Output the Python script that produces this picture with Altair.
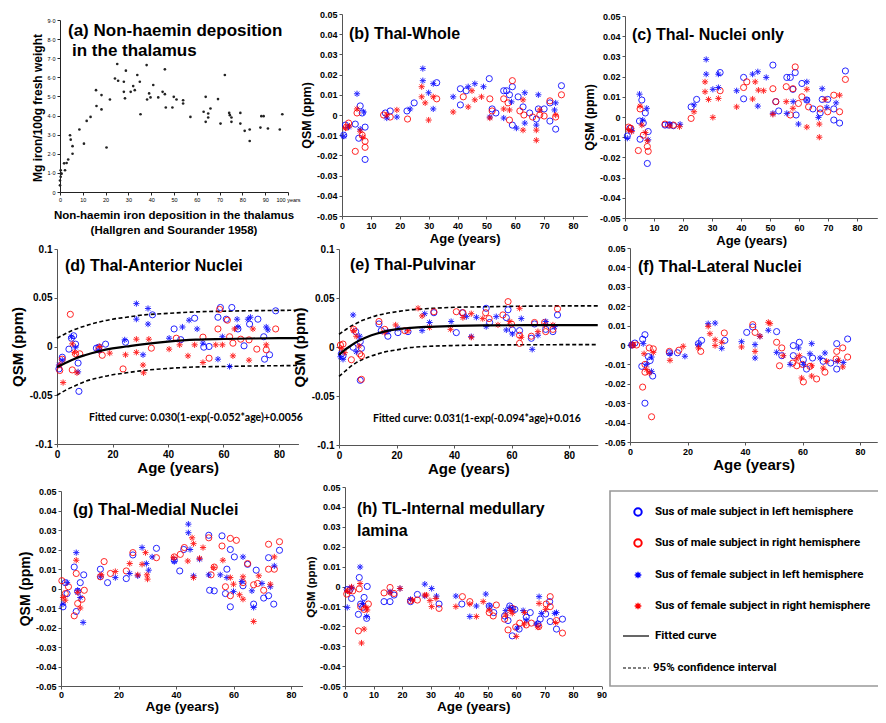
import altair as alt
import pandas as pd

# ---------------- data ----------------
# (a) iron content (mg / 100 g fresh weight, in units of the 0-9 axis) vs age
A_PTS = [(0,0.35),(0,0.6),(0.3,0.8),(0.4,0.96),(0.3,1.14),(0.7,0.96),(1.8,1.5),(2.2,1.14),(2.9,1.52),(3.6,1.7),
         (4.4,2.97),(4.7,2.74),(5.5,2.4),(5.5,2.0),(8.5,3.27),(10.5,2.53),(11.7,3.72),(13.4,3.93),(15.8,5.33),(16,4.5),
         (18.2,5.07),(18.2,4.32),(20.4,2.33),(21.9,4.84),(24.1,5.94),(25.1,6.7),(25.5,5.82),(28,5.77),(28,5.24),(28.5,4.9),
         (28.9,6.35),(31,5.24),(32.1,5.54),(32.8,5.33),(33.9,6.12),(35,5.77),(35.3,4.07),(38,6.64),(38.2,4.84),(39.1,5.16),
         (39.7,4.95),(40.9,5.6),(43.1,4.95),(45,5.24),(46,5.12),(46,6.42),(46.4,4.42),(49.3,4.42),(49.9,4.98),(51.1,4.84),
         (54,4.8),(54,4.63),(57.2,3.93),(63,4.2),(63.9,4.98),(63.9,3.67),(65,4.11),(65,3.9),(66,4.37),(69.3,4.86),
         (70.4,3.58),(72.3,6.12),(74.2,4.14),(74.5,4.02),(75.2,3.9),(75.2,3.67),(79.1,4.14),(79.1,3.58),(81,3.2),(83.2,3.27),
         (83.2,2.67),(87.9,3.37),(88.3,3.97),(89.3,3.97),(91.2,3.32),(96.4,3.27),(97.5,4.07)]

# series: ML = male left (blue o), MR = male right (red o), FL = female left (blue *), FR = female right (red *)
B_ML = [(0.6,-0.010),(1.2,-0.005),(4.6,-0.0045),(5.8,-0.0115),(6.3,0.0045),(7,0.001),(8,-0.006),(8,-0.022),(15,0.001),(16.7,0.002),
        (22.5,0.002),(25,0.006),(32.8,0.016),(41,0.005),(41,0.013),(43,0.012),(51,0.018),(52,0.003),(53.3,0.001),(56,0.012),
        (57,0.012),(58,0.010),(59,0.014),(59,-0.005),(61,0.009),(62.7,0.004),(65,0.001),(67.3,-0.002),(68,0.003),(70,0.003),
        (72,0.006),(72,-0.003),(74,-0.007),(76,0.0145)]
B_MR = [(1.5,-0.006),(2.3,-0.004),(4.6,-0.018),(5.2,0.001),(7,-0.010),(8,-0.016),(8,-0.013),(14.4,0.0),(16.7,-0.001),(22.7,-0.002),
        (32.8,0.008),(42,0.009),(51.2,0.008),(52,0.002),(56,0.008),(57.5,0.006),(58,-0.0025),(59,0.017),(61.6,0.002),(63,0.0),
        (66,-0.001),(68.5,0.0),(70,-0.0005),(72,0.007),(74,-0.001),(76,0.010)]
B_FL = [(0.6,-0.0105),(2.3,-0.006),(5.2,0.0105),(6.3,-0.007),(7.5,0.0015),(15.5,-0.0015),(19,-0.001),(23.6,0.003),(28,0.023),(28,0.017),
        (30,0.011),(31.6,0.003),(31.6,0.0155),(38.5,0.009),(43.7,0.014),(46,0.0155),(49,0.014),(51.2,-0.001),(56,-0.0015),(58.7,0.0065),
        (60.4,-0.0065),(63.3,0.011),(63.3,-0.004),(68,0.010),(67.3,-0.005),(73.6,0.0025),(74,0.006)]
B_FR = [(1.2,-0.0065),(2.6,-0.0055),(5.2,0.003),(6.3,-0.008),(7.2,-0.011),(15.5,0.0),(19,0.0025),(27.6,0.014),(27.6,0.009),(28.8,0.006),
        (30,-0.0025),(31.6,0.009),(38.5,0.0015),(43.7,0.004),(45,0.012),(46,0.0075),(48.3,0.009),(51.2,-0.0015),(56,0.003),(58,0.0025),
        (62.7,0.0075),(62.7,-0.0075),(67.3,-0.0125),(67.3,-0.0075),(68.5,0.0025),(74,0.0)]

C_ML = [(0.8,-0.0094),(1.7,-0.0056),(5,-0.002),(5.2,-0.011),(5.8,0.0084),(6.3,-0.003),(7,0.002),(7.7,-0.023),(8,-0.0072),(13.8,-0.004),
        (15,-0.004),(16.7,-0.0043),(22.8,0.005),(24.7,0.0087),(32.8,0.022),(40.9,0.0196),(40.9,0.009),(51,0.0257),(52,0.0076),(53,0.003),
        (55.8,0.0196),(57,0.0196),(57.9,0.0137),(58.7,0.022),(59,0.001),(61,0.0166),(62.7,0.0084),(64.8,0.004),(67.3,0.002),(68,0.0087),
        (69.9,0.0087),(72,0.004),(72,-0.0015),(74,-0.003),(76,0.0228)]
C_MR = [(1.2,-0.005),(2,-0.0056),(4.6,-0.0166),(5.2,0.004),(6.3,-0.009),(7.7,-0.0146),(8,-0.017),(13.8,-0.0035),(16.7,-0.004),(22.8,-0.0007),
        (32.8,0.013),(40.9,0.0146),(42,0.0174),(51,0.014),(52,0.0076),(55.6,0.015),(57,0.001),(57.9,0.014),(58.7,0.0248),(59.8,0.0067),
        (61,0.010),(63.3,0.005),(67.3,0.004),(69.9,0.0026),(72,0.0108),(74,0.0026),(76,0.0186)]
C_FL = [(0.8,-0.0105),(2.3,-0.0067),(5,0.0113),(6.1,-0.0015),(7.5,0.0043),(8,-0.0113),(15.5,-0.0035),(19,-0.0036),(23.8,0.006),(28,0.0285),
        (28,0.0212),(30.3,0.0137),(32.2,0.0212),(32.2,0.0146),(38.5,0.013),(44,0.0212),(45.8,0.0224),(45.8,0.0054),(48.7,0.0196),(51,0.0018),
        (55.8,0.0018),(58,0.0076),(59.8,-0.0035),(62.7,0.0174),(62.7,0.0084),(66.7,-0.0002),(68,0.014),(69.6,0.0048),(72.8,0.007)]
C_FR = [(1.2,-0.0064),(2.3,-0.0072),(5.2,0.0054),(5.8,-0.004),(7,-0.0077),(7.7,-0.0117),(15.5,-0.0044),(18.8,-0.0048),(23.8,0.0026),(27.6,0.0174),
        (27.6,0.0125),(28.8,0.0087),(30.3,-0.0002),(32.2,0.0092),(38.5,0.005),(44,0.0089),(44.9,0.0174),(46,0.0133),(47.8,0.013),(51,0.0013),
        (55.6,0.0076),(57.9,0.0043),(62.7,0.0137),(62.7,-0.005),(67,-0.010),(67,-0.0035),(69,0.0087),(74,0.0108)]

D_ML = [(0.7,-0.023),(1.9,-0.011),(4.3,-0.0027),(5.2,0.0085),(6,0.011),(6.7,0.0024),(7.6,-0.017),(7.9,-0.046),(14.2,-0.0017),(15.1,-0.0007),
        (17.5,0.0024),(24.7,0.0044),(34.4,0.0325),(42.2,0.018),(44.6,0.007),(49.6,0.029),(52.9,-0.0007),(54.8,0.0),(58,0.030),(58.9,0.040),
        (61,0.028),(63,0.040),(65.2,0.018),(67.4,0.0007),(69.4,0.023),(72.4,0.028),(74.8,-0.013),(76.6,-0.0085),(78.8,0.0366),(74.5,0.010)]
D_MR = [(1,-0.0246),(1.9,-0.013),(4.8,0.033),(5.5,-0.024),(6.7,-0.0075),(8.2,-0.0075),(15.1,-0.0034),(16.3,-0.009),(23.8,-0.023),(34,-0.0017),
        (43,0.0085),(52.6,0.0096),(54.8,-0.012),(58,0.018),(58.6,0.038),(61.4,0.027),(62.2,0.010),(63.4,0.0034),(66.2,0.0075),(69.2,0.0068),
        (72,-0.0027),(75.4,-0.0034),(78.8,0.018)]
D_FL = [(0.7,-0.019),(1.9,-0.014),(5.2,0.010),(6.7,-0.0007),(7.6,-0.026),(15.1,-0.004),(24.4,0.0068),(28.6,0.044),(28.6,0.028),(31,-0.0085),
        (32.8,0.039),(32.8,0.023),(40.4,0.0085),(45.2,0.020),(47.6,0.027),(50.5,0.018),(52.6,0.0034),(58,-0.013),(59.6,0.010),(62.2,-0.0205),
        (64.9,0.028),(65.2,0.020),(68.8,0.028),(69.7,0.030),(75.4,0.020),(76,0.017)]
D_FR = [(1,-0.019),(2.2,-0.037),(5.5,0.0027),(6.3,-0.006),(7.2,-0.027),(15.4,0.0),(19,-0.0068),(24.7,-0.0085),(28.6,0.0075),(28.6,-0.006),
        (31,-0.019),(31.2,-0.027),(33.1,0.0075),(40.4,-0.0027),(44.2,0.0017),(47.2,-0.0096),(49.6,0.0017),(52.6,-0.0164),(57.2,0.0017),(59.6,0.0017),
        (63.4,-0.0096),(64,0.018),(69.2,-0.014),(70.6,0.018),(75.4,0.0017)]
D_CURVE_AGE = [0, 3, 6, 10, 15, 20, 25, 30, 40, 50, 60, 70, 80, 87]
D_FIT = [-0.021, -0.017, -0.013, -0.009, -0.005, -0.002, 0.0, 0.002, 0.005, 0.007, 0.0077, 0.0082, 0.0085, 0.0086]
D_UP = [0.0085, 0.013, 0.017, 0.021, 0.025, 0.028, 0.030, 0.032, 0.034, 0.0355, 0.0362, 0.0367, 0.037, 0.0372]
D_LO = [-0.050, -0.045, -0.041, -0.036, -0.032, -0.029, -0.027, -0.025, -0.0225, -0.021, -0.0205, -0.020, -0.0197, -0.0195]

E_ML = [(0.8,-0.007),(1.4,-0.009),(4.9,-0.0003),(5.8,0.0157),(7.4,0.0055),(7.8,-0.0013),(7.4,-0.034),(13.9,0.0235),(14.7,0.0167),(17,0.011),
        (20.5,0.0147),(24,0.0157),(33,0.035),(40.8,0.0147),(42.9,0.035),(51.2,0.0395),(52.4,0.025),(58.2,0.030),(58.8,0.038),(60.3,0.0174),
        (62.8,0.0167),(66.9,0.0089),(68,0.0235),(71.9,0.018),(74.4,0.0157),(76,0.0327)]
E_MR = [(0.5,0.002),(1.4,0.003),(4.3,-0.013),(5.1,0.018),(7.2,-0.007),(7.8,-0.009),(7.8,-0.033),(13.9,0.026),(15.9,0.018),(22.9,0.0167),
        (33,0.036),(40.8,0.036),(43.1,0.035),(51,0.035),(52.2,0.029),(57,0.0327),(58.8,0.0463),(60,0.0235),(62.8,0.012),(62.8,0.0037),
        (66.9,0.011),(68,0.025),(71.5,0.025),(71.9,0.0157),(74.4,0.018),(76,0.039)]
E_FL = [(0.5,-0.010),(1.4,-0.0126),(4.9,0.0327),(6,-0.0048),(7.2,0.011),(17,0.0157),(20.5,0.019),(28.9,0.0167),(29.8,0.034),(31.5,0.025),
        (39,0.026),(44.3,0.031),(46,0.0106),(47.8,0.0303),(51.2,0.0208),(54.7,0.031),(58.2,0.0174),(60.3,0.0133),(63.4,0.029),(67.2,-0.0024),
        (69.2,0.012),(71.9,0.026),(75,0.0208)]
E_FR = [(0.8,-0.0014),(2,-0.0058),(5.1,0.0167),(6,0.011),(7,0.001),(15.9,0.0147),(19.7,0.0225),(24,0.0167),(27.5,0.0395),(28.9,0.0317),
        (31.5,0.020),(38.8,0.018),(43.1,0.030),(46,0.0099),(46,0.034),(50,0.029),(55.3,0.0225),(59.4,0.026),(62.8,0.0395),(63.4,0.0099),
        (69.2,0.0157),(71.5,0.0225),(74.4,0.0225)]
E_CURVE_AGE = [0, 2, 4, 6, 8, 10, 13, 16, 20, 25, 30, 40, 50, 60, 70, 80, 90]
E_FIT = [-0.008, -0.003, 0.001, 0.005, 0.008, 0.0105, 0.0135, 0.016, 0.018, 0.0195, 0.0205, 0.0215, 0.022, 0.0222, 0.0223, 0.0223, 0.0223]
E_UP = [0.013, 0.017, 0.021, 0.024, 0.027, 0.029, 0.032, 0.034, 0.036, 0.038, 0.039, 0.0405, 0.041, 0.0415, 0.0418, 0.042, 0.042]
E_LO = [-0.030, -0.025, -0.020, -0.016, -0.013, -0.0105, -0.0075, -0.005, -0.003, -0.0005, 0.0005, 0.0015, 0.002, 0.0022, 0.0023, 0.0024, 0.0024]

F_ML = [(0.6,0.0),(1.7,0.001),(4.4,0.003),(5.2,0.0053),(4.1,-0.011),(5.2,-0.030),(6.4,-0.006),(7,-0.008),(7.9,-0.016),(13.7,-0.004),
        (16.5,-0.004),(23.8,0.0007),(24.9,0.0024),(33,0.0024),(40.6,0.0065),(42.7,0.0093),(51,0.0069),(52.8,-0.0055),(56.8,-0.0055),(56.8,-0.0003),
        (58.9,0.0014),(60.3,-0.0076),(61.4,-0.0124),(63.5,-0.0067),(67.2,-0.0084),(69.8,-0.0093),(71.9,0.0007),(71.9,-0.0124),(75.7,0.0031)]
F_MR = [(0.9,0.0),(2.3,0.0),(4.4,-0.0217),(5.2,-0.010),(5.2,-0.014),(6.7,-0.0015),(7.5,-0.037),(8.1,-0.002),(13.7,-0.0033),(17,-0.0027),
        (24.6,-0.0033),(32.8,0.0062),(42.7,0.0105),(43.5,0.0065),(51,0.0014),(52,-0.0107),(52.8,-0.0015),(56.6,-0.0093),(58,-0.0107),(60,-0.010),
        (60.3,-0.019),(62.6,-0.011),(64.9,-0.0175),(67.8,-0.014),(71.9,-0.0033),(71.7,-0.0072),(74,-0.0015),(75.7,-0.0062)]
F_FL = [(0.6,0.0),(4.6,0.0007),(5.8,-0.010),(7.5,-0.0062),(7.5,-0.0136),(13.9,-0.0045),(19.1,-0.0058),(23.8,0.0002),(27.2,0.011),(29.6,0.0113),
        (31.9,-0.0017),(38.8,0.0017),(43.5,-0.0067),(43.5,0.0002),(45.2,0.0045),(48.1,0.0076),(51,-0.0038),(55.7,-0.010),(58.6,-0.0015),(60.3,-0.010),
        (62.6,-0.0045),(63.2,0.0007),(66.1,-0.0067),(67.8,-0.0041),(72.1,-0.0084),(74.2,-0.009)]
F_FR = [(0.9,0.0),(4.9,-0.0045),(5.8,-0.0127),(6.7,-0.0144),(8.1,-0.0038),(13.9,-0.0079),(18.5,-0.0007),(23.8,-0.0015),(27.2,0.0096),(27.8,0.0058),
        (29.6,0.0027),(29.6,-0.0003),(31.9,0.0014),(38.8,-0.001),(43.5,-0.0033),(45.2,0.0045),(48.1,0.0117),(48.7,0.011),(53.3,-0.0055),(58,-0.0072),
        (58.9,-0.0055),(59.7,-0.017),(63.2,-0.0107),(63.2,-0.016),(67.2,-0.0119),(68.4,-0.0084),(72.5,-0.0079),(74,-0.0113)]

G_ML = [(0.7,-0.0094),(1.5,0.003),(2.1,-0.0026),(4.6,0.011),(5.3,-0.0118),(5.8,-0.0015),(6.7,0.003),(7.9,0.007),(13.7,0.0099),(16.2,0.003),
        (22.7,0.0051),(25,0.0172),(33.2,0.0206),(39.4,0.0145),(41.3,0.009),(42.7,0.020),(51.4,0.0273),(51.7,-0.0009),(53.3,-0.0012),(56,0.027),
        (57.2,-0.0026),(57.7,0.0099),(58.9,-0.0094),(58.9,0.020),(60.3,0.0162),(63.3,0.0014),(64.9,0.0124),(67,-0.008),(67.9,0.0094),(70.5,-0.0049),
        (72.2,-0.0037),(72.2,0.0158),(74,-0.008),(76,0.0196)]
G_MR = [(0.3,0.004),(1.5,-0.0026),(2.6,0.0009),(4.6,-0.014),(5.3,0.0077),(5.8,-0.0077),(7.3,-0.0055),(8.1,-0.0009),(13.7,0.006),(15,0.0138),
        (17.2,0.0077),(22.7,0.009),(25,0.0184),(33.2,0.0158),(39.4,0.0162),(41.5,0.0175),(42.9,0.021),(51.4,0.026),(52.2,0.007),(53.3,0.011),
        (56,0.0218),(57.2,0.0009),(58.9,0.0257),(58.9,-0.0037),(61,0.0247),(63.3,0.003),(64.9,0.0128),(67,0.0019),(68.4,0.0026),(70.5,-0.0009),
        (72.2,0.0227),(72.2,0.0099),(74.2,0.0099),(76,0.024)]
G_FL = [(0.7,-0.008),(2.1,0.003),(5.3,0.0184),(5.8,-0.0009),(6.7,-0.0046),(7.7,-0.0174),(13.7,0.006),(18.9,0.0056),(23.9,0.0077),(26.7,0.0065),
        (28.2,0.021),(29.7,0.0128),(30.5,0.0094),(31.7,0.0162),(39.4,0.0138),(44.3,0.033),(44.3,0.0286),(44.9,0.020),(46.1,0.0065),(48.2,0.015),
        (51.4,0.007),(55.4,0.007),(57.7,0.0056),(60,-0.0015),(62.9,0.0036),(63.3,0.0162),(66.4,-0.0012),(67,-0.0097),(69.9,0.0026),(72.8,0.0009),
        (74.2,0.0116)]
G_FR = [(0.7,-0.0046),(1.5,-0.006),(5.3,0.0145),(5.8,-0.002),(6.7,-0.010),(14,0.007),(18.9,0.0087),(23.9,0.0128),(26.7,0.007),(28.2,0.0124),
        (29.4,0.0184),(29.9,0.007),(30.1,0.0048),(39.2,0.0158),(44.1,0.0141),(45.6,0.026),(46.1,0.023),(46.1,0.0056),(48.2,0.0155),(49.4,0.021),
        (53.1,0.0107),(56.3,0.0145),(58.9,0.0056),(60,0.0022),(62.1,-0.0032),(63.3,-0.0055),(63.3,0.006),(67,-0.0169),(68.8,0.0065),(72.8,0.0022),
        (74.2,0.0162)]

H_ML = [(0.8,-0.0015),(1.8,-0.0015),(2.3,-0.006),(4.7,-0.014),(5,0.0045),(5.5,-0.0088),(6.2,-0.0105),(6.7,-0.0055),(7.6,-0.016),(7.8,0.0),
        (13.7,-0.0076),(15.8,-0.0076),(17.2,-0.0043),(23,-0.0076),(25.4,-0.004),(33,-0.0088),(41,-0.0088),(50.6,-0.0098),(52.2,-0.0131),(56,-0.0148),
        (57.2,-0.0171),(57.8,-0.0098),(58.7,-0.0248),(59.6,-0.0115),(61.1,-0.0214),(63.6,-0.0154),(65,-0.0131),(67.7,-0.0188),(68.5,-0.0164),(70.4,-0.0138),
        (71.8,-0.0076),(72,-0.0176),(74.2,-0.0214),(76.3,-0.0164)]
H_MR = [(0.6,-0.0038),(1.5,-0.0022),(2.7,-0.0022),(4.7,-0.0223),(5,-0.0012),(5.5,-0.0101),(6.7,-0.0115),(8.2,-0.0088),(13.7,-0.0032),(15.8,-0.0005),
        (17.2,-0.0035),(23,-0.0071),(25.4,-0.0068),(33,-0.011),(41.2,-0.0051),(43.8,-0.0076),(50.6,-0.0131),(52,-0.0148),(53.1,-0.0093),(56,-0.0164),
        (57.2,-0.0218),(58.7,-0.011),(59.9,-0.0204),(61.3,-0.0184),(63.6,-0.0193),(65.4,-0.0184),(68,-0.0201),(70.6,-0.0088),(72,-0.0051),(72,-0.0101),
        (74.2,-0.0171),(76.3,-0.0234)]
H_FL = [(0.8,-0.0105),(2.3,-0.0005),(5.3,0.0098),(6.2,-0.0085),(7.6,-0.0151),(15.8,-0.0027),(19.3,-0.001),(23,-0.0065),(28,0.0012),(28,-0.0048),
        (30.4,-0.001),(32.1,-0.0048),(38.9,-0.0048),(43.8,-0.0151),(46.1,-0.0098),(49.4,-0.0038),(50.8,-0.0098),(56.4,-0.0121),(57.8,-0.0105),(59,-0.0115),
        (60.4,-0.0209),(62.5,-0.0121),(63.6,-0.0168),(67.2,-0.0188),(68.1,-0.0051),(68.9,-0.0135),(73.6,-0.0135),(74.2,-0.0131)]
H_FR = [(0.8,-0.0022),(2.3,-0.0002),(5.3,0.0015),(5.8,-0.0284),(6.7,-0.0214),(7.4,-0.0105),(7.8,-0.0118),(15.8,-0.0032),(19.3,-0.001),(23.7,-0.0068),
        (28,-0.0043),(28.6,-0.0043),(29.8,-0.0071),(30.4,-0.0101),(31.9,-0.006),(38.9,-0.0101),(43.8,-0.0088),(46.1,-0.0151),(48.5,-0.0076),(50.6,-0.0118),
        (56.4,-0.0143),(58,-0.0121),(58.7,-0.0135),(60.1,-0.0251),(63,-0.0131),(63,-0.0188),(67.7,-0.0204),(68.1,-0.0085),(70.4,-0.0115),(73.9,-0.0181)]

SERIES = ["ML", "MR", "FL", "FR"]
LEGEND_TEXT = ["Sus of male subject in left hemisphere", "Sus of male subject in right hemisphere",
               "Sus of female subject in left hemisphere", "Sus of female subject in right hemisphere",
               "Fitted curve", "95% confidence interval"]
Y05 = [-0.05, -0.04, -0.03, -0.02, -0.01, 0, 0.01, 0.02, 0.03, 0.04, 0.05]
Y10 = [-0.1, -0.05, 0, 0.05, 0.1]

# ---------------- layout / style ----------------
W, H = 870, 707
O = 8  # page margin
FONT = "Liberation Sans"
NFONT = "Roboto"
LFONT = "Lato"
BLUE, RED = "#0000ff", "#ff0000"
AST = "M-1,0L1,0M0,-1L0,1M-0.72,-0.72L0.72,0.72M-0.72,0.72L0.72,-0.72"

color_scale = alt.Scale(domain=SERIES, range=[BLUE, RED, BLUE, RED])
shape_scale = alt.Scale(domain=SERIES, range=["circle", "circle", AST, AST])
DUMMY = pd.DataFrame({"k": [0]})


def frame(lists):
    rows = []
    for s, pts in zip(SERIES, lists):
        for a, v in pts:
            rows.append({"age": a, "val": v, "s": s})
    return pd.DataFrame(rows)


def make_scales(x0, ppu, xmax, yb, yt, yd):
    xs = alt.Scale(domain=[0, xmax], range=[x0 - O, x0 - O + ppu * xmax], nice=False, zero=False)
    ys = alt.Scale(domain=yd, range=[yb - O, yt - O], nice=False, zero=False)
    return xs, ys


def x_axis(yb, values, title, tsize=15, lsize=9, tpad=2, lpad=2, expr=None, weight="bold", color="#555"):
    kw = dict(orient="bottom", offset=(yb - O) - H, values=values, grid=False, labelFlush=False,
              labelOverlap=False, labelFont=FONT, labelFontWeight=weight, labelFontSize=lsize,
              labelColor="black", labelPadding=lpad, tickSize=3, tickColor=color, domainColor=color,
              titleFont=FONT, titleFontSize=tsize, titleFontWeight="bold", titleColor="black",
              titlePadding=tpad, title=title if title else "")
    if expr:
        kw["labelExpr"] = expr
    return alt.Axis(**kw)


def y_axis(x0, values, title, tsize=13, lsize=9, tpad=2, expr="'' + datum.value", weight="bold", color="#555"):
    kw = dict(orient="left", offset=-(x0 - O), values=values, grid=False, labelOverlap=False,
              labelFont=FONT, labelFontWeight=weight, labelFontSize=lsize, labelColor="black",
              labelPadding=2, tickSize=3, tickColor=color, domainColor=color, labelExpr=expr,
              titleFont=FONT, titleFontSize=tsize, titleFontWeight="bold", titleColor="black",
              titlePadding=tpad, title=title if title else "")
    return alt.Axis(**kw)


def points(df, xs, ys, xa, ya):
    return alt.Chart(df).mark_point(filled=False, size=38, strokeWidth=1, opacity=0.85).encode(
        x=alt.X("age:Q", scale=xs, axis=xa),
        y=alt.Y("val:Q", scale=ys, axis=ya),
        color=alt.Color("s:N", scale=color_scale, legend=None),
        shape=alt.Shape("s:N", scale=shape_scale, legend=None),
    )


def curve(ages, vals, xs, ys, dashed):
    df = pd.DataFrame({"age": ages, "val": vals})
    if dashed:
        m = alt.Chart(df).mark_line(color="black", strokeWidth=1.6, strokeDash=[4, 2.5], interpolate="monotone")
    else:
        m = alt.Chart(df).mark_line(color="black", strokeWidth=2.2, interpolate="monotone")
    return m.encode(x=alt.X("age:Q", scale=xs, axis=None), y=alt.Y("val:Q", scale=ys, axis=None))


def text(t, x, y, size=16, weight="bold", font=FONT, align="left", angle=0, color="black"):
    kw = dict(text=t, align=align, baseline="middle", font=font, fontSize=size, fontWeight=weight, color=color)
    if angle:
        kw["angle"] = angle
    return alt.Chart(DUMMY).mark_text(**kw).encode(x=alt.value(x - O), y=alt.value(y - O))


layers = []

# ---- (a) ----
xs, ys = make_scales(60, 2.28, 100, 192, 20, [0, 9])
layers.append(alt.Chart(pd.DataFrame(A_PTS, columns=["age", "val"])).mark_circle(size=7, color="#222", opacity=1).encode(
    x=alt.X("age:Q", scale=xs, axis=x_axis(192, list(range(0, 101, 10)), None, lsize=5.5, weight="normal", color="#222",
                                            expr="datum.value == 100 ? '100 years' : '' + datum.value")),
    y=alt.Y("val:Q", scale=ys, axis=y_axis(60, list(range(0, 10)), None, lsize=5.5, weight="normal", color="#222",
                                            expr="datum.value == 0 ? '0' : replace(format(datum.value, '.1f'), '.', '\u00b7')")),
))
layers.append(text("(a) Non-haemin deposition", 68, 31, size=17))
layers.append(text("in the thalamus", 72, 51, size=17))
layers.append(text("Mg iron/100g fresh weight", 38, 108, size=12, angle=270, align="center"))
layers.append(text("Non-haemin iron deposition in the thalamus", 174, 216, size=11.5, align="center"))
layers.append(text("(Hallgren and Sourander 1958)", 174, 231, size=11.5, align="center"))

# ---- (b) ----
xs, ys = make_scales(342, 2.8875, 85, 216, 14, [-0.05, 0.05])
layers.append(points(frame([B_ML, B_MR, B_FL, B_FR]), xs, ys,
                     x_axis(216, list(range(0, 81, 10)), "Age (years)", tsize=13, tpad=2),
                     y_axis(342, Y05, "QSM (ppm)", tsize=12.5, tpad=3)))
layers.append(text("(b) Thal-Whole", 349, 34))

# ---- (c) ----
xs, ys = make_scales(625, 2.9, 87, 218, 16, [-0.05, 0.05])
layers.append(points(frame([C_ML, C_MR, C_FL, C_FR]), xs, ys,
                     x_axis(218, list(range(0, 81, 10)), "Age (years)", tsize=13, tpad=2),
                     y_axis(625, Y05, "QSM (ppm)", tsize=12.5, tpad=3)))
layers.append(text("(c) Thal- Nuclei only", 632, 35))

# ---- (d) ----
xs, ys = make_scales(57, 2.775, 87, 444, 249, [-0.1, 0.1])
layers.append(curve(D_CURVE_AGE, D_UP, xs, ys, True))
layers.append(curve(D_CURVE_AGE, D_LO, xs, ys, True))
layers.append(points(frame([D_ML, D_MR, D_FL, D_FR]), xs, ys,
                     x_axis(444, [0, 20, 40, 60, 80], "Age (years)", tsize=15, lsize=10, tpad=1),
                     y_axis(57, Y10, "QSM (ppm)", tsize=15, lsize=10, tpad=4)))
layers.append(curve(D_CURVE_AGE, D_FIT, xs, ys, False))
layers.append(text("(d) Thal-Anterior Nuclei", 65, 266))
layers.append(text("Fitted curve: 0.030(1-exp(-0.052*age)+0.0056", 89, 418, size=10.5, font=LFONT))

# ---- (e) ----
xs, ys = make_scales(339, 2.875, 90, 445, 249, [-0.1, 0.1])
layers.append(curve(E_CURVE_AGE, E_UP, xs, ys, True))
layers.append(curve(E_CURVE_AGE, E_LO, xs, ys, True))
layers.append(points(frame([E_ML, E_MR, E_FL, E_FR]), xs, ys,
                     x_axis(445, [0, 20, 40, 60, 80], "Age (years)", tsize=15, lsize=10, tpad=1),
                     y_axis(339, Y10, "QSM (ppm)", tsize=15, lsize=10, tpad=4)))
layers.append(curve(E_CURVE_AGE, E_FIT, xs, ys, False))
layers.append(text("(e) Thal-Pulvinar", 350, 265))
layers.append(text("Fitted curve: 0.031(1-exp(-0.094*age)+0.016", 373, 419, size=10.5, font=LFONT))

# ---- (f) ----
xs, ys = make_scales(630, 2.875, 86, 442, 248, [-0.05, 0.05])
layers.append(points(frame([F_ML, F_MR, F_FL, F_FR]), xs, ys,
                     x_axis(442, [0, 20, 40, 60, 80], "Age (years)", tsize=15, tpad=1),
                     y_axis(630, Y05, None)))
layers.append(text("(f) Thal-Lateral Nuclei", 638, 267))

# ---- (g) ----
xs, ys = make_scales(61, 2.875, 84, 686, 491, [-0.05, 0.05])
layers.append(points(frame([G_ML, G_MR, G_FL, G_FR]), xs, ys,
                     x_axis(686, [0, 20, 40, 60, 80], "Age (years)", tsize=13.5, tpad=0, lpad=1),
                     y_axis(61, Y05, "QSM (ppm)", tsize=14, tpad=3)))
layers.append(text("(g) Thal-Medial Nuclei", 73, 510))

# ---- (h) ----
xs, ys = make_scales(345, 2.85, 90, 686, 487, [-0.05, 0.05])
layers.append(points(frame([H_ML, H_MR, H_FL, H_FR]), xs, ys,
                     x_axis(686, list(range(0, 91, 10)), "Age (years)", tsize=13.5, tpad=0, lpad=1),
                     y_axis(345, Y05, "QSM (ppm)", tsize=11.5, tpad=3)))
layers.append(text("(h) TL-Internal medullary", 357, 509))
layers.append(text("lamina", 357, 531))

# ---- legend box ----
layers.append(alt.Chart(DUMMY).mark_rect(fill="white", stroke="#999", strokeWidth=1.6).encode(
    x=alt.value(610 - O), x2=alt.value(895 - O), y=alt.value(491 - O), y2=alt.value(686 - O)))
leg_y = [512, 543, 575, 606]
leg_shape = ["circle", "circle", AST, AST]
leg_col = [BLUE, RED, BLUE, RED]
leg_size = [55, 55, 45, 45]
leg_sw = [2, 2, 1.3, 1.3]
for i in range(4):
    layers.append(alt.Chart(DUMMY).mark_point(shape=leg_shape[i], filled=False, size=leg_size[i], strokeWidth=leg_sw[i],
                                              color=leg_col[i], opacity=1).encode(
        x=alt.value(638 - O), y=alt.value(leg_y[i] - O)))
    layers.append(text(LEGEND_TEXT[i], 655, leg_y[i], size=11.5, font=NFONT))
layers.append(alt.Chart(DUMMY).mark_rule(color="black", strokeWidth=1.2).encode(
    x=alt.value(623 - O), x2=alt.value(649 - O), y=alt.value(636 - O)))
layers.append(text(LEGEND_TEXT[4], 655, 636, size=11.5, font=NFONT))
layers.append(alt.Chart(DUMMY).mark_rule(color="black", strokeWidth=1.2, strokeDash=[3, 2]).encode(
    x=alt.value(623 - O), x2=alt.value(649 - O), y=alt.value(668 - O)))
layers.append(text(LEGEND_TEXT[5], 653, 668, size=11.5, font=NFONT))

chart = alt.layer(*layers).resolve_scale(x="independent", y="independent").properties(
    width=W, height=H, padding=0, autosize=alt.AutoSizeParams(type="none"),
    background="white",
).configure_view(stroke=None)

chart.save("out.html", embed_options={"renderer": "svg", "actions": False})
